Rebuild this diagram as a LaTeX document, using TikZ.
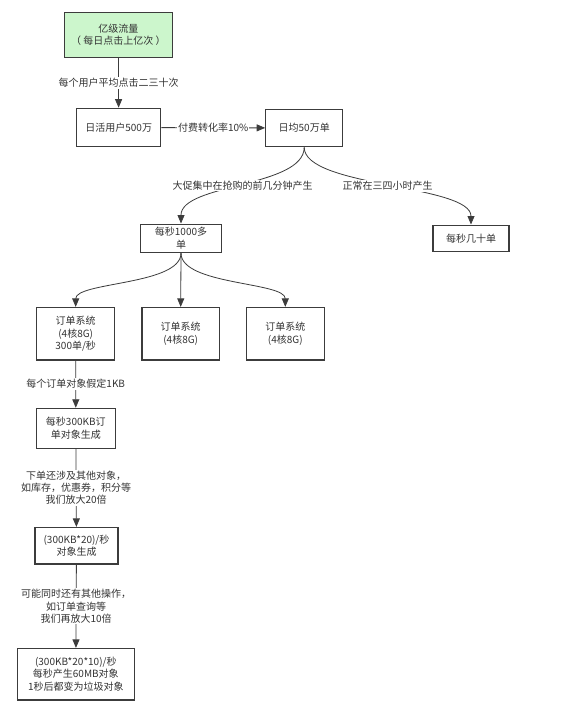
\documentclass[tikz,border=0pt]{standalone}
\usepackage{fontspec}
\setmainfont{Noto Sans CJK SC}
\usetikzlibrary{arrows.meta}
\definecolor{boxgreen}{RGB}{204,246,204}
\definecolor{ink}{RGB}{51,51,51}
\definecolor{edge}{RGB}{60,60,60}
\begin{document}
\begin{tikzpicture}[x=1pt,y=-1pt,
  font=\fontsize{10}{12.3}\selectfont,
  every node/.style={text=ink},
  boxnode/.style={draw=edge,line width=1.1pt,fill=white,align=center,inner sep=0pt},
  conn/.style={draw=edge,line width=0.8pt,-{Triangle[length=8.5pt,width=7pt]}},
  lbl/.style={fill=white,align=center,inner sep=1pt}]
\useasboundingbox[fill=white] (0,0) rectangle (586,714);

\node[boxnode,fill=boxgreen,minimum width=108pt,minimum height=45pt] (top) at (118.3,35) {亿级流量\\（ 每日点击上亿次 ）};
\node[boxnode,minimum width=84pt,minimum height=38.5pt] (dau) at (118.7,127.5) {日活用户500万};
\node[boxnode,minimum width=77pt,minimum height=37.5pt] (avg) at (304.2,128) {日均50万单};
\node[boxnode,minimum width=80.5pt,minimum height=28.5pt] (peak) at (181,238.3) {每秒1000多\\单};
\node[boxnode,minimum width=76pt,minimum height=26.5pt] (normal) at (471,238.3) {每秒几十单};
\node[boxnode,minimum width=78pt,minimum height=52.5pt] (sys1) at (75.7,333.7) {订单系统\\(4核8G)\\300单/秒};
\node[boxnode,minimum width=77.5pt,minimum height=52.5pt] (sys2) at (180.7,333.7) {订单系统\\(4核8G)};
\node[boxnode,minimum width=77.5pt,minimum height=52.5pt] (sys3) at (285.3,333.7) {订单系统\\(4核8G)};
\node[boxnode,minimum width=78.5pt,minimum height=40pt] (kb) at (75.8,428.3) {每秒300KB订\\单对象生成};
\node[boxnode,minimum width=83pt,minimum height=36.5pt] (kb20) at (76.5,545.7) {(300KB*20)/秒\\对象生成};
\node[boxnode,minimum width=117pt,minimum height=51.5pt] (kb200) at (75.8,674.2) {(300KB*20*10)/秒\\每秒产生60MB对象\\1秒后都变为垃圾对象};

\draw[conn] (top) -- node[lbl] {每个用户平均点击二三十次} (dau);
\draw[conn] (dau) -- node[lbl] {付费转化率10\%} (avg);
\draw[conn] (avg.south) .. controls ++(0,40) and ++(0,-40) .. node[lbl] {大促集中在抢购的前几分钟产生} (peak.north);
\draw[conn] (avg.south) .. controls ++(0,40) and ++(0,-40) .. node[lbl] {正常在三四小时产生} (normal.north);
\draw[conn] (peak.south) .. controls ++(0,32) and ++(0,-25) .. (sys1.north);
\draw[conn] (peak.south) -- (sys2.north);
\draw[conn] (peak.south) .. controls ++(0,32) and ++(0,-25) .. (sys3.north);
\draw[conn] (sys1) -- node[lbl] {每个订单对象假定1KB} (kb);
\draw[conn] (kb) -- node[lbl] {下单还涉及其他对象，\\如库存，优惠券，积分等\\我们放大20倍} (kb20);
\draw[conn] (kb20) -- node[lbl] {可能同时还有其他操作，\\如订单查询等\\我们再放大10倍} (kb200);
\end{tikzpicture}
\end{document}
